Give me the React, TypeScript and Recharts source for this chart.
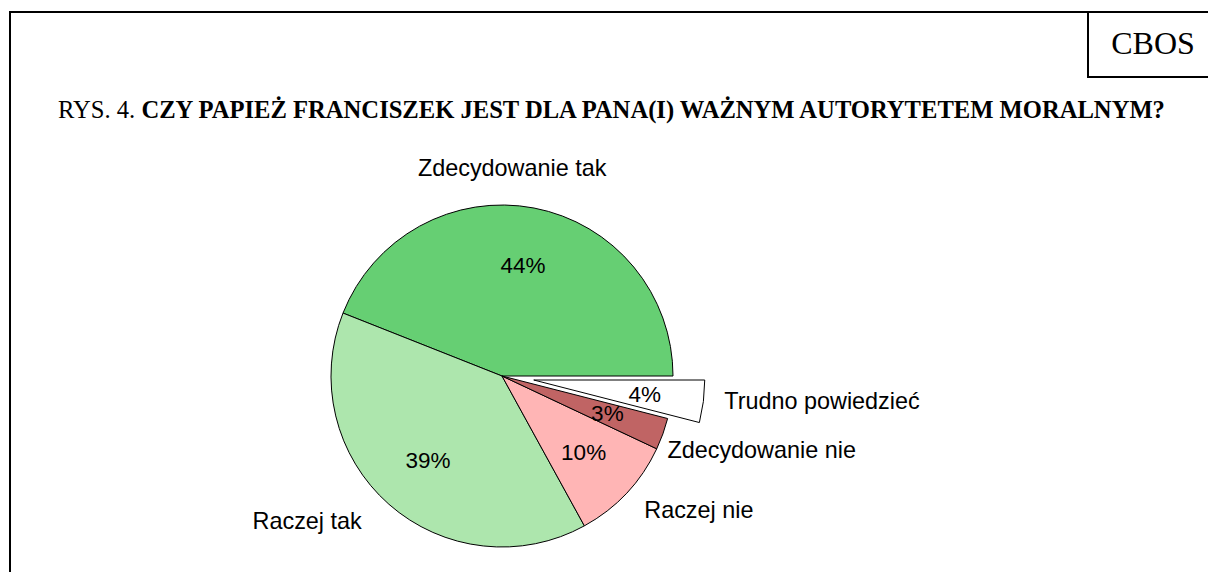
import React from 'react';
import { PieChart, Pie, Cell } from 'recharts';

const categories = ['Zdecydowanie tak', 'Raczej tak', 'Raczej nie', 'Zdecydowanie nie', 'Trudno powiedzieć'];
const values = [44, 39, 10, 3, 4];
const colors = ['#66CF73', '#ADE6AD', '#FFB5B5', '#C06464', '#FFFFFF'];
const explodedIndex = 4;
const titlePrefix = 'RYS. 4. ';
const titleText = 'CZY PAPIEŻ FRANCISZEK JEST DLA PANA(I) WAŻNYM AUTORYTETEM MORALNYM?';
const sourceText = 'CBOS';

// category label placement (polar, around the slice's own centre)
const nameLabelLayout = [
  { angle: 87.2, r: 208 },
  { angle: 216.7, r: 243 },
  { angle: 325.8, r: 238 },
  { angle: 344.1, r: 270 },
  { angle: 355.8, r: 289 },
];

const data = categories.map((name, i) => ({ name, value: values[i] }));

const CX = 502;
const CY = 376;
const R = 171;
const EXPLODE = 32;
const RAD = Math.PI / 180;

const total = values.reduce((a, b) => a + b, 0);
const startOf = values.slice(0, explodedIndex).reduce((a, b) => a + b, 0);
const explodedMid = ((startOf + values[explodedIndex] / 2) / total) * 360;
const ECX = CX + EXPLODE * Math.cos(-explodedMid * RAD);
const ECY = CY + EXPLODE * Math.sin(-explodedMid * RAD);

const fontSans = '"Liberation Sans", Arial, sans-serif';
const fontSerif = '"Liberation Serif", "Times New Roman", serif';

const makeLabel = (only: (i: number) => boolean) => (props: any) => {
  const { cx, cy, midAngle, index } = props;
  if (!only(index)) return null;
  const ix = cx + 112 * Math.cos(-midAngle * RAD);
  const iy = cy + 112 * Math.sin(-midAngle * RAD);
  const lay = nameLabelLayout[index];
  const nx = cx + lay.r * Math.cos(-lay.angle * RAD);
  const ny = cy + lay.r * Math.sin(-lay.angle * RAD);
  return (
    <g>
      <text x={ix} y={iy} textAnchor="middle" dominantBaseline="central" fill="#000" fontSize={22.5} fontFamily={fontSans}>
        {values[index]}%
      </text>
      <text x={nx} y={ny} textAnchor="middle" dominantBaseline="central" fill="#000" fontSize={23.4} fontFamily={fontSans}>
        {categories[index]}
      </text>
    </g>
  );
};

export default function App() {
  return (
    <div style={{ position: 'absolute', left: 0, top: 0, width: 1208, height: 572, overflow: 'hidden', background: '#fff' }}>
      <div style={{ position: 'absolute', left: 9, top: 11, width: 1400, height: 800, border: '2px solid #000' }} />
      <div style={{ position: 'absolute', left: 1087, top: 11, width: 200, height: 65, borderLeft: '2px solid #000', borderBottom: '2px solid #000' }} />
      <div style={{ position: 'absolute', left: 1089, top: 25, width: 128, textAlign: 'center', fontFamily: fontSerif, fontSize: 32, lineHeight: '36px', color: '#000' }}>
        {sourceText}
      </div>
      <div style={{ position: 'absolute', left: 58, top: 96, whiteSpace: 'nowrap', fontFamily: fontSerif, fontSize: 24.6, lineHeight: '28px', color: '#000' }}>
        {titlePrefix}<b>{titleText}</b>
      </div>
      <div style={{ position: 'absolute', left: 0, top: 0 }}>
        <PieChart width={1208} height={572} margin={{ top: 0, right: 0, bottom: 0, left: 0 }}>
          <Pie
            data={data}
            dataKey="value"
            nameKey="name"
            cx={CX}
            cy={CY}
            outerRadius={R}
            startAngle={0}
            endAngle={360}
            isAnimationActive={false}
            labelLine={false}
            label={makeLabel((i) => i !== explodedIndex)}
          >
            {data.map((d, i) => (
              <Cell
                key={d.name}
                fill={i === explodedIndex ? 'none' : colors[i]}
                stroke={i === explodedIndex ? 'none' : '#000'}
                strokeWidth={1}
              />
            ))}
          </Pie>
          <Pie
            data={data}
            dataKey="value"
            nameKey="name"
            cx={ECX}
            cy={ECY}
            outerRadius={R}
            startAngle={0}
            endAngle={360}
            isAnimationActive={false}
            labelLine={false}
            label={makeLabel((i) => i === explodedIndex)}
          >
            {data.map((d, i) => (
              <Cell
                key={d.name}
                fill={i === explodedIndex ? colors[i] : 'none'}
                stroke={i === explodedIndex ? '#000' : 'none'}
                strokeWidth={1}
              />
            ))}
          </Pie>
        </PieChart>
      </div>
    </div>
  );
}
